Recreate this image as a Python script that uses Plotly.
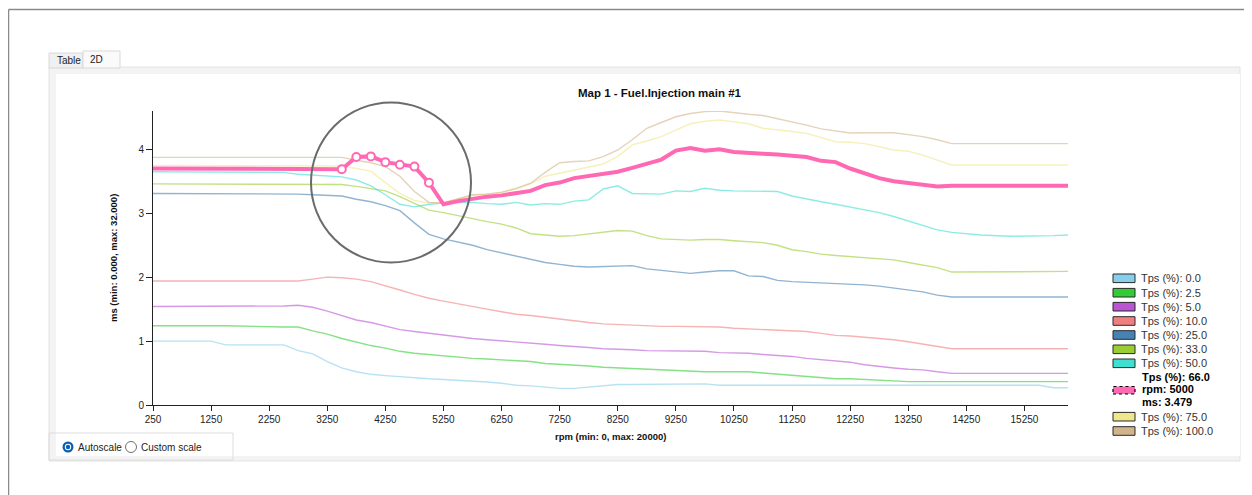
import plotly.graph_objects as go

# rpm breakpoints (x axis)
rpm = [250, 1250, 1500, 2500, 2750, 3000, 3250, 3500, 3750, 4000,
       4250, 4500, 4750, 5000, 5250, 5500, 5750, 6000, 6250, 6500,
       6750, 7000, 7250, 7500, 7750, 8000, 8250, 8500, 8750, 9000,
       9250, 9500, 9750, 10000, 10250, 10500, 10750, 11000, 11250, 11500,
       11750, 12000, 12250, 12500, 12750, 13000, 13250, 13500, 13750, 14000,
       14500, 15000, 15500, 15750, 16000]

# injection time (ms) per throttle position
tps_0 = [1.00, 1.00, 0.94, 0.94, 0.85, 0.80, 0.68, 0.58, 0.52, 0.48,
         0.46, 0.44, 0.42, 0.41, 0.40, 0.39, 0.38, 0.36, 0.34, 0.31,
         0.30, 0.28, 0.26, 0.26, 0.28, 0.31, 0.32, 0.32, 0.32, 0.32,
         0.32, 0.33, 0.33, 0.31, 0.31, 0.31, 0.31, 0.31, 0.31, 0.31,
         0.31, 0.31, 0.31, 0.31, 0.31, 0.31, 0.31, 0.31, 0.31, 0.31,
         0.31, 0.31, 0.31, 0.27, 0.27]
tps_2_5 = [1.24, 1.24, 1.24, 1.22, 1.22, 1.16, 1.11, 1.04, 0.98, 0.93,
           0.89, 0.84, 0.81, 0.79, 0.76, 0.745, 0.73, 0.72, 0.71, 0.69,
           0.68, 0.65, 0.64, 0.63, 0.61, 0.59, 0.58, 0.57, 0.56, 0.54,
           0.53, 0.53, 0.52, 0.52, 0.52, 0.52, 0.50, 0.48, 0.46, 0.44,
           0.43, 0.41, 0.41, 0.40, 0.38, 0.37, 0.365, 0.365, 0.365, 0.365,
           0.365, 0.365, 0.365, 0.365, 0.365]
tps_5 = [1.54, 1.54, 1.54, 1.55, 1.56, 1.53, 1.47, 1.40, 1.33, 1.29,
         1.23, 1.18, 1.15, 1.12, 1.09, 1.06, 1.04, 1.02, 1.005, 0.99,
         0.97, 0.95, 0.93, 0.92, 0.90, 0.88, 0.875, 0.865, 0.85, 0.85,
         0.85, 0.85, 0.84, 0.82, 0.82, 0.81, 0.79, 0.78, 0.76, 0.73,
         0.71, 0.69, 0.67, 0.63, 0.60, 0.58, 0.56, 0.55, 0.52, 0.495,
         0.495, 0.495, 0.495, 0.495, 0.495]
tps_10 = [1.94, 1.94, 1.94, 1.94, 1.94, 1.97, 2.00, 1.99, 1.97, 1.93,
          1.87, 1.80, 1.73, 1.67, 1.625, 1.58, 1.54, 1.50, 1.46, 1.42,
          1.40, 1.37, 1.34, 1.31, 1.29, 1.27, 1.26, 1.245, 1.235, 1.23,
          1.23, 1.225, 1.22, 1.22, 1.20, 1.19, 1.18, 1.17, 1.16, 1.15,
          1.12, 1.09, 1.08, 1.06, 1.05, 1.02, 0.99, 0.95, 0.92, 0.88,
          0.88, 0.88, 0.88, 0.88, 0.88]
tps_25 = [3.31, 3.31, 3.31, 3.31, 3.30, 3.29, 3.28, 3.27, 3.22, 3.18,
          3.12, 3.04, 2.85, 2.67, 2.60, 2.55, 2.50, 2.43, 2.38, 2.34,
          2.28, 2.23, 2.20, 2.17, 2.16, 2.17, 2.18, 2.18, 2.13, 2.11,
          2.09, 2.06, 2.08, 2.10, 2.10, 2.02, 2.01, 1.95, 1.93, 1.92,
          1.91, 1.90, 1.90, 1.88, 1.86, 1.83, 1.80, 1.77, 1.72, 1.69,
          1.69, 1.69, 1.69, 1.69, 1.69]
tps_33 = [3.46, 3.46, 3.46, 3.46, 3.46, 3.46, 3.46, 3.45, 3.42, 3.38,
          3.35, 3.26, 3.16, 3.05, 3.01, 2.96, 2.91, 2.87, 2.83, 2.77,
          2.68, 2.66, 2.64, 2.65, 2.68, 2.71, 2.73, 2.72, 2.65, 2.60,
          2.59, 2.58, 2.59, 2.59, 2.57, 2.55, 2.54, 2.50, 2.43, 2.40,
          2.36, 2.34, 2.32, 2.30, 2.29, 2.27, 2.23, 2.19, 2.15, 2.08,
          2.08, 2.08, 2.08, 2.09, 2.09]
tps_50 = [3.65, 3.65, 3.65, 3.64, 3.61, 3.60, 3.59, 3.57, 3.52, 3.43,
          3.29, 3.14, 3.10, 3.14, 3.16, 3.17, 3.17, 3.15, 3.14, 3.17,
          3.13, 3.15, 3.14, 3.19, 3.21, 3.38, 3.43, 3.31, 3.31, 3.30,
          3.35, 3.34, 3.39, 3.36, 3.35, 3.35, 3.34, 3.34, 3.27, 3.22,
          3.18, 3.14, 3.10, 3.06, 3.01, 2.95, 2.88, 2.81, 2.74, 2.70,
          2.66, 2.64, 2.64, 2.65, 2.66]
tps_66 = [3.70, 3.70, 3.70, 3.70, 3.70, 3.70, 3.70, 3.69, 3.88, 3.89,
          3.80, 3.76, 3.73, 3.479, 3.14, 3.19, 3.23, 3.26, 3.28, 3.31,
          3.35, 3.44, 3.48, 3.55, 3.58, 3.62, 3.65, 3.71, 3.77, 3.84,
          3.98, 4.02, 3.98, 4.00, 3.96, 3.94, 3.93, 3.92, 3.90, 3.88,
          3.82, 3.80, 3.70, 3.62, 3.55, 3.50, 3.47, 3.44, 3.42, 3.43,
          3.43, 3.43, 3.43, 3.43, 3.43]
tps_75 = [3.75, 3.75, 3.75, 3.75, 3.75, 3.75, 3.74, 3.74, 3.70, 3.66,
          3.48, 3.31, 3.20, 3.16, 3.17, 3.22, 3.28, 3.30, 3.32, 3.38,
          3.46, 3.58, 3.63, 3.67, 3.73, 3.77, 3.89, 4.07, 4.13, 4.20,
          4.30, 4.40, 4.44, 4.46, 4.43, 4.40, 4.33, 4.31, 4.28, 4.25,
          4.19, 4.12, 4.11, 4.09, 4.04, 3.99, 3.97, 3.91, 3.83, 3.755,
          3.755, 3.755, 3.755, 3.755, 3.755]
tps_100 = [3.875, 3.875, 3.875, 3.885, 3.885, 3.88, 3.88, 3.875, 3.83, 3.79,
           3.73, 3.58, 3.34, 3.17, 3.16, 3.23, 3.29, 3.30, 3.33, 3.39,
           3.47, 3.64, 3.79, 3.81, 3.82, 3.885, 3.99, 4.15, 4.33, 4.42,
           4.51, 4.56, 4.59, 4.60, 4.57, 4.55, 4.53, 4.48, 4.44, 4.38,
           4.32, 4.29, 4.255, 4.26, 4.26, 4.26, 4.23, 4.20, 4.15, 4.09,
           4.09, 4.09, 4.09, 4.09, 4.09]

tps_labels = ["0.0", "2.5", "5.0", "10.0", "25.0", "33.0", "50.0", "66.0", "75.0", "100.0"]
tps_values = [tps_0, tps_2_5, tps_5, tps_10, tps_25, tps_33, tps_50, tps_66, tps_75, tps_100]
tps_colors = ["#87CEEB", "#32CD32", "#BA55D3", "#F08080", "#4682B4",
              "#9ACD32", "#40E0D0", "#FF69B4", "#F0E68C", "#D2B48C"]

x_ticks = [250, 1250, 2250, 3250, 4250, 5250, 6250, 7250, 8250, 9250,
           10250, 11250, 12250, 13250, 14250, 15250]

hover_label = "66.0"
hover_rpm = [3500, 3750, 4000, 4250, 4500, 4750, 5000]

# page geometry in screen pixels; the page body adds an 8px margin
W, H = 1252, 495
OFF = 8
L, R, T, B = 153, 1068, 111, 405


def fx(p):
    return (p - L) / (R - L)


def fy(p):
    return (B - p) / (B - T)


def rgba(hex_color, a):
    h = hex_color.lstrip("#")
    return "rgba(%d,%d,%d,%s)" % (int(h[0:2], 16), int(h[2:4], 16), int(h[4:6], 16), a)


def rect(x0, y0, x1, y1, fill, line="rgba(0,0,0,0)", width=1, layer="below", dash="solid"):
    return dict(type="rect", xref="paper", yref="paper",
                x0=fx(x0), x1=fx(x1), y0=fy(y1), y1=fy(y0),
                fillcolor=fill, line=dict(color=line, width=width, dash=dash), layer=layer)


def circle(cx, cy, r, fill, line="rgba(0,0,0,0)", width=1, layer="above"):
    return dict(type="circle", xref="paper", yref="paper",
                x0=fx(cx - r), x1=fx(cx + r), y0=fy(cy + r), y1=fy(cy - r),
                fillcolor=fill, line=dict(color=line, width=width), layer=layer)


def text(x, y, s, size=11, color="#222", anchor="left", bold=False, angle=0):
    return dict(xref="paper", yref="paper", x=fx(x), y=fy(y), text="<b>%s</b>" % s if bold else s,
                showarrow=False, xanchor=anchor, yanchor="middle", textangle=angle,
                font=dict(family="Liberation Sans, Arial, sans-serif", size=size, color=color))


fig = go.Figure()

for lab, vals, col in zip(tps_labels, tps_values, tps_colors):
    if lab == hover_label:
        continue
    fig.add_trace(go.Scatter(x=rpm, y=vals, mode="lines", name="Tps (%): " + lab,
                             line=dict(color=rgba(col, 0.6), width=1.4), hoverinfo="skip"))

pink = tps_colors[tps_labels.index(hover_label)]
fig.add_trace(go.Scatter(x=rpm, y=tps_66, mode="lines", name="Tps (%): " + hover_label,
                         line=dict(color=pink, width=4)))
idx = [rpm.index(r) for r in hover_rpm]
fig.add_trace(go.Scatter(x=[rpm[i] for i in idx], y=[tps_66[i] for i in idx], mode="markers",
                         marker=dict(size=8, color="white", line=dict(color=pink, width=2)),
                         showlegend=False))

shapes = [
    # outer window frame
    dict(type="line", xref="paper", yref="paper", x0=fx(OFF + 0.5), x1=fx(W), y0=fy(9.5), y1=fy(9.5),
         line=dict(color="#8a8a8a", width=1.5)),
    dict(type="line", xref="paper", yref="paper", x0=fx(OFF + 0.5), x1=fx(OFF + 0.5), y0=fy(9.5), y1=fy(H),
         line=dict(color="#8a8a8a", width=1.5)),
    # tab control panel
    rect(49, 67, 1240, 461, "#f3f3f3", "#e3e3e3"),
    rect(56, 74, 1240, 456, "#ffffff"),
    rect(49, 53, 83, 68, "#f0f0f0", "#d9d9d9"),
    rect(83, 51, 120, 68, "#fafafa", "#d9d9d9"),
    # scale group box
    rect(49, 433, 233, 460, "rgba(0,0,0,0)", "#dcdcdc"),
    # highlight circle
    circle(391, 182.5, 80, "rgba(0,0,0,0)", "#6b6b6b", 2),
]

# radio buttons
shapes += [circle(68, 447, 5.5, "#0a5fb4"), circle(68, 447, 3.2, "#ffffff"),
           circle(68, 447, 2.2, "#0a5fb4"), circle(131, 447, 5.5, "#ffffff", "#6f6f6f", 1)]

annotations = [
    text(660, 93, "Map 1 - Fuel.Injection main #1", size=11.5, color="#111", anchor="center", bold=True),
    text(113, 258, "ms (min: 0.000, max: 32.000)", size=9.5, color="#111", anchor="center", bold=True, angle=-90),
    text(610, 437, "rpm (min: 0, max: 20000)", size=9.5, color="#111", anchor="center", bold=True),
    text(55, 60.5, "Table", size=10, color="#222"),
    text(88, 59, "2D", size=10, color="#222"),
    text(76, 447.5, "Autoscale", size=10, color="#222"),
    text(139, 447.5, "Custom scale", size=10, color="#222"),
]

# legend drawn as swatches + labels
row_y = {"0.0": 278.3, "2.5": 292.7, "5.0": 306.7, "10.0": 321, "25.0": 335,
         "33.0": 349.3, "50.0": 363.3, "75.0": 416.7, "100.0": 431}
for lab, col in zip(tps_labels, tps_colors):
    if lab == hover_label:
        shapes.append(rect(1113, 386.5, 1135, 394, col, "#000000", 1.2, "above", "dot"))
        annotations.append(text(1140, 377.3, "Tps (%): " + lab, size=11, color="#000", bold=True))
        annotations.append(text(1140, 389.3, "rpm: 5000", size=11, color="#000", bold=True))
        annotations.append(text(1140, 402, "ms: 3.479", size=11, color="#000", bold=True))
        continue
    y = row_y[lab]
    shapes.append(rect(1113, y - 4.3, 1135, y + 4.3, col, "#2a2a2a", 1, "above"))
    annotations.append(text(1139, y, "Tps (%): " + lab, size=11, color="#333"))

fig.update_layout(
    width=W - OFF, height=H - OFF,
    margin=dict(l=L - OFF, r=W - R, t=T - OFF, b=H - B, pad=0),
    paper_bgcolor="white", plot_bgcolor="rgba(0,0,0,0)",
    showlegend=False,
    shapes=shapes, annotations=annotations,
    xaxis=dict(range=[250, 16000], tickvals=x_ticks, tickformat="d", showgrid=False, zeroline=False,
               showline=True, linecolor="#222", linewidth=1, ticks="outside", ticklen=5,
               tickcolor="#222", tickfont=dict(family="Liberation Sans, Arial", size=10, color="#222")),
    yaxis=dict(range=[0, 4.6], tickvals=[0, 1, 2, 3, 4], showgrid=False, zeroline=False,
               showline=True, linecolor="#222", linewidth=1, ticks="outside", ticklen=6,
               tickcolor="#222", tickfont=dict(family="Liberation Sans, Arial", size=10, color="#222")),
)

fig.write_html("out.html")
